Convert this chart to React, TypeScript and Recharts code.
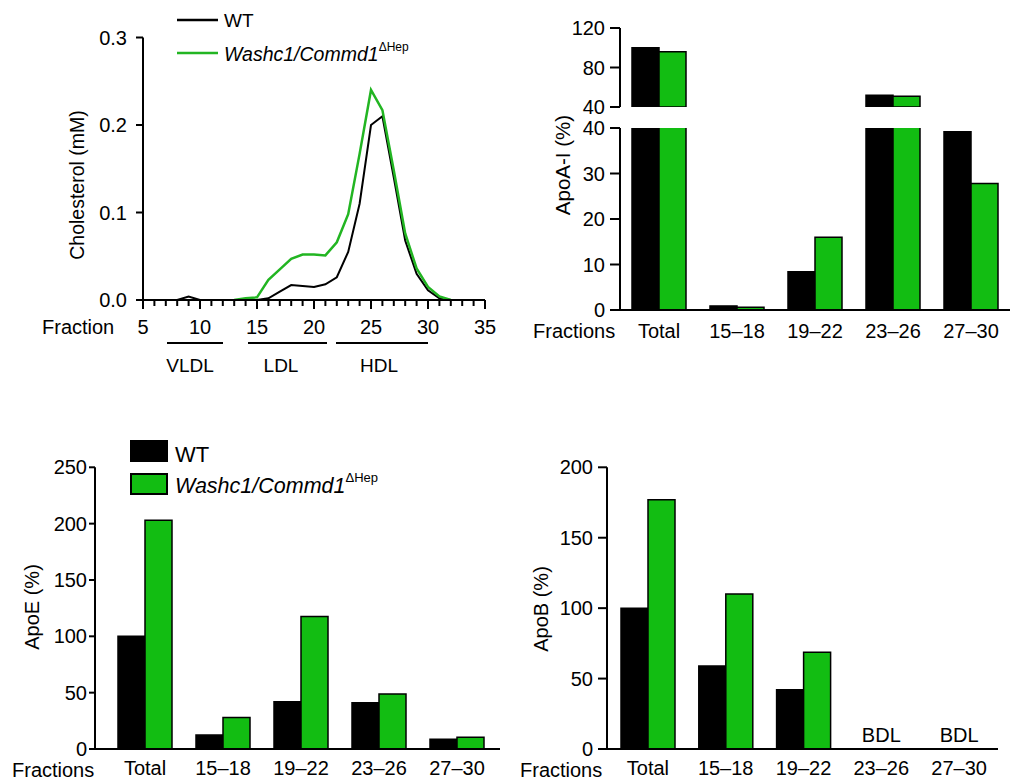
import {
  LineChart, Line, BarChart, Bar, XAxis, YAxis, ReferenceDot,
} from 'recharts'

// cholesterol profile (FPLC fractions)
const fractions = [8, 9, 10, 11, 12, 13, 14, 15, 16, 17, 18, 19, 20, 21, 22, 23, 24, 25, 26, 27, 28, 29, 30, 31, 32]
const wtChol = [0, 0.004, 0, 0, 0, 0, 0, 0, 0.002, 0.0096, 0.017, 0.016, 0.015, 0.018, 0.026, 0.055, 0.11, 0.2, 0.21, 0.14, 0.068, 0.03, 0.011, 0.002, 0]
const koChol = [null, null, null, null, null, 0, 0.002, 0.003, 0.023, 0.035, 0.047, 0.052, 0.052, 0.051, 0.066, 0.098, 0.167, 0.24, 0.217, 0.148, 0.076, 0.036, 0.015, 0.004, 0]
const fractionTicks = [5, 6, 7, 8, 9, 10, 11, 12, 13, 14, 15, 16, 17, 18, 19, 20, 21, 22, 23, 24, 25, 26, 27, 28, 29, 30, 31, 32, 33, 34, 35]
const cholTicks = [0, 0.1, 0.2, 0.3]

// apolipoproteins per fraction pool
const cats = ['Total', '15–18', '19–22', '23–26', '27–30']
const apoaWt = [100, 0.9, 8.4, 52, 39.2]
const apoaKo = [96, 0.6, 16, 51, 27.8]
const apoeWt = [100, 12.4, 42, 41, 8.6]
const apoeKo = [203, 28, 117.5, 48.8, 10.4]
const apobWt = [100, 59, 42, null, null]
const apobKo = [177, 110, 68.7, null, null]
const bdlCats = ['23–26', '27–30']

const GREEN_LINE = '#22b522'
const GREEN_BAR = '#12bd12'
const FONT = '"Liberation Sans", Arial, Helvetica, sans-serif'

const cholData = fractions.map((f, i) => ({ f, wt: wtChol[i], ko: koChol[i] }))
const barRows = (wt: (number | null)[], ko: (number | null)[]) =>
  cats.map((c, i) => ({ cat: c, wt: wt[i], ko: ko[i] }))
const apoaUpper = cats.map((c, i) => ({
  cat: c,
  wt: apoaWt[i] >= 40 ? apoaWt[i] : null,
  ko: apoaKo[i] >= 40 ? apoaKo[i] : null,
}))
const apoaLower = barRows(apoaWt, apoaKo)
const apoeData = barRows(apoeWt, apoeKo)
const apobData = barRows(apobWt, apobKo)

const axisLine = { stroke: '#000', strokeWidth: 2 }
const tickText = { fontSize: 20, fill: '#000', fontFamily: FONT }

const FractionTick = (props: any) => {
  const { x, y, payload } = props
  const major = payload.value % 5 === 0
  return (
    <g>
      <line x1={x} y1={y} x2={x} y2={y + (major ? 9 : 6)} stroke="#000" strokeWidth={2} />
      {major && (
        <text x={x} y={y + 34} textAnchor="middle" fontSize={20} fill="#000" fontFamily={FONT}>
          {payload.value}
        </text>
      )}
    </g>
  )
}

const bars = () => [
  <Bar key="wt" dataKey="wt" fill="#000" stroke="#000" strokeWidth={1.5} barSize={27} isAnimationActive={false} />,
  <Bar key="ko" dataKey="ko" fill={GREEN_BAR} stroke="#000" strokeWidth={1.5} barSize={27} isAnimationActive={false} />,
]

const abs = (left: number, top: number) => ({ position: 'absolute' as const, left, top })

export default function App() {
  return (
    <div style={{ position: 'absolute', left: 0, top: 0, width: 1012, height: 780, background: '#fff', fontFamily: FONT }}>
      {/* cholesterol profile */}
      <div style={abs(0, 0)}>
        <LineChart width={500} height={400} data={cholData} margin={{ top: 37.5, right: 15, bottom: 0, left: 0 }}>
          <XAxis
            dataKey="f" type="number" domain={[5, 35]} ticks={fractionTicks} interval={0}
            axisLine={axisLine} tickLine={false} tickSize={0} tickMargin={0} height={100}
            tick={<FractionTick />}
          />
          <YAxis
            domain={[0, 0.3]} ticks={cholTicks} width={143} axisLine={axisLine} interval={0}
            tickLine={axisLine} tickSize={7} tickMargin={9} tick={tickText}
            tickFormatter={(v: number) => v.toFixed(1)}
          />
          <Line type="linear" dataKey="wt" stroke="#000" strokeWidth={2} dot={false} isAnimationActive={false} />
          <Line type="linear" dataKey="ko" stroke={GREEN_LINE} strokeWidth={2.5} dot={false} isAnimationActive={false} />
        </LineChart>
      </div>

      {/* ApoA-I, broken axis: upper part */}
      <div style={abs(520, 0)}>
        <BarChart width={492} height={118} data={apoaUpper} barGap={0} margin={{ top: 28, right: 2, bottom: 11, left: 0 }}>
          <XAxis dataKey="cat" hide />
          <YAxis
            domain={[40, 120]} ticks={[40, 80, 120]} allowDataOverflow width={100} interval={0}
            axisLine={axisLine} tickLine={axisLine} tickSize={10} tickMargin={5} tick={tickText}
          />
          {bars()}
        </BarChart>
      </div>
      {/* ApoA-I lower part */}
      <div style={abs(520, 118)}>
        <BarChart width={492} height={232} data={apoaLower} barGap={0} margin={{ top: 10, right: 2, bottom: 0, left: 0 }}>
          <XAxis
            dataKey="cat" axisLine={axisLine} tickLine={false} tickSize={0} tickMargin={14}
            tick={tickText} height={40} interval={0}
          />
          <YAxis
            domain={[0, 40]} ticks={[0, 10, 20, 30, 40]} allowDataOverflow width={100} interval={0}
            axisLine={axisLine} tickLine={axisLine} tickSize={10} tickMargin={5} tick={tickText}
          />
          {bars()}
        </BarChart>
      </div>

      {/* ApoE */}
      <div style={abs(0, 430)}>
        <BarChart width={510} height={350} data={apoeData} barGap={0} margin={{ top: 37.3, right: 10, bottom: 0, left: 0 }}>
          <XAxis
            dataKey="cat" axisLine={axisLine} tickLine={false} tickSize={0} tickMargin={12}
            tick={tickText} height={31} interval={0} padding={{ left: 11, right: 4 }}
          />
          <YAxis
            domain={[0, 250]} ticks={[0, 50, 100, 150, 200, 250]} width={95} interval={0}
            axisLine={axisLine} tickLine={axisLine} tickSize={6} tickMargin={2} tick={tickText}
          />
          {bars()}
        </BarChart>
      </div>

      {/* ApoB */}
      <div style={abs(510, 430)}>
        <BarChart width={502} height={350} data={apobData} barGap={0} margin={{ top: 37.3, right: 14, bottom: 0, left: 0 }}>
          <XAxis
            dataKey="cat" axisLine={axisLine} tickLine={false} tickSize={0} tickMargin={12}
            tick={tickText} height={31} interval={0} padding={{ left: 2, right: 0 }}
          />
          <YAxis
            domain={[0, 200]} ticks={[0, 50, 100, 150, 200]} width={97} interval={0}
            axisLine={axisLine} tickLine={axisLine} tickSize={9} tickMargin={5} tick={tickText}
          />
          {bars()}
          {bdlCats.map(c => (
            <ReferenceDot
              key={c} x={c} y={10} r={0} fill="none" stroke="none"
              label={{ value: 'BDL', position: 'center', fontSize: 20, fill: '#000', fontFamily: FONT }}
            />
          ))}
        </BarChart>
      </div>

      {/* labels, legends, lipoprotein classes */}
      <svg width={1012} height={780} style={{ position: 'absolute', left: 0, top: 0, pointerEvents: 'none' }} fontFamily={FONT}>
        <line x1={177} y1={20} x2={218} y2={20} stroke="#000" strokeWidth={2.5} />
        <text x={224} y={27} fontSize={19}>WT</text>
        <line x1={177} y1={53} x2={218} y2={53} stroke={GREEN_LINE} strokeWidth={2.5} />
        <text x={224} y={61} fontSize={19.5} fontStyle="italic">
          Washc1/Commd1<tspan fontStyle="normal" fontSize={12} dy={-10}>ΔHep</tspan>
        </text>

        <text x={77} y={185} fontSize={19.5} textAnchor="middle" dominantBaseline="central" transform="rotate(-90 77 185)">Cholesterol (mM)</text>
        <text x={42} y={334} fontSize={20}>Fraction</text>
        <line x1={167} y1={343} x2={223} y2={343} stroke="#000" strokeWidth={2} />
        <line x1={248} y1={343} x2={327} y2={343} stroke="#000" strokeWidth={2} />
        <line x1={336} y1={343} x2={428} y2={343} stroke="#000" strokeWidth={2} />
        <text x={190} y={372} fontSize={19} textAnchor="middle">VLDL</text>
        <text x={281} y={372} fontSize={19} textAnchor="middle">LDL</text>
        <text x={379} y={372} fontSize={19} textAnchor="middle">HDL</text>

        <text x={562} y={165} fontSize={20.5} textAnchor="middle" dominantBaseline="central" transform="rotate(-90 562 165)">ApoA-I (%)</text>
        <text x={533} y={338} fontSize={20}>Fractions</text>

        <rect x={130} y={440} width={38} height={22} fill="#000" />
        <text x={175} y={462} fontSize={22}>WT</text>
        <rect x={131} y={474} width={36} height={20} fill={GREEN_BAR} stroke="#000" strokeWidth={2} />
        <text x={175} y={493} fontSize={21.5} fontStyle="italic">
          Washc1/Commd1<tspan fontStyle="normal" fontSize={13} dy={-11}>ΔHep</tspan>
        </text>
        <text x={32} y={607} fontSize={20} textAnchor="middle" dominantBaseline="central" transform="rotate(-90 32 607)">ApoE (%)</text>
        <text x={12} y={777} fontSize={20}>Fractions</text>

        <text x={541} y={609} fontSize={20} textAnchor="middle" dominantBaseline="central" transform="rotate(-90 541 609)">ApoB (%)</text>
        <text x={520} y={777} fontSize={20}>Fractions</text>
      </svg>
    </div>
  )
}
